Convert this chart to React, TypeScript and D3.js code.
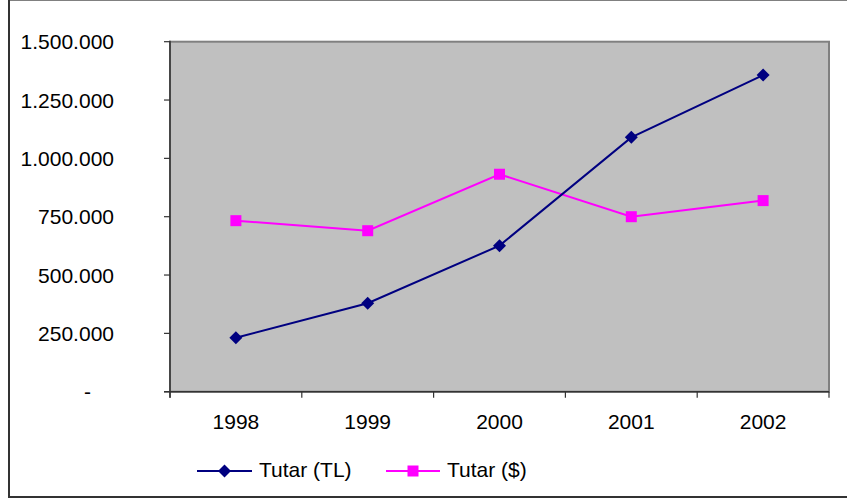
import React from "react";
import * as d3 from "d3";

const years = ["1998", "1999", "2000", "2001", "2002"];
const tutarTL = [231000, 379000, 626000, 1090000, 1357000];
const tutarUSD = [733000, 690000, 932000, 750000, 819000];
const yTicks = [0, 250000, 500000, 750000, 1000000, 1250000, 1500000];
const seriesNames = ["Tutar (TL)", "Tutar ($)"];

const W = 847;
const H = 500;
const plot = { left: 170, right: 829, top: 41.7, bottom: 391.7 };
const FONT = "'Liberation Sans', Arial, sans-serif";

const fmt = (v: number) =>
  v === 0 ? "-" : d3.format(",")(v).replace(/,/g, ".");

export default function App() {
  const x = d3.scaleBand<string>().domain(years).range([plot.left, plot.right]).padding(0);
  const y = d3.scaleLinear().domain([0, 1500000]).range([plot.bottom, plot.top]);
  const cx = (d: string) => (x(d) as number) + x.bandwidth() / 2;

  const line = d3
    .line<number>()
    .x((_, i) => cx(years[i]))
    .y((v) => y(v));

  const navy = "#000080";
  const magenta = "#FF00FF";

  const diamond = (px: number, py: number, r = 6.5) =>
    `M${px},${py - r}L${px + r},${py}L${px},${py + r}L${px - r},${py}Z`;

  const xTickPositions = [...years.map((d) => x(d) as number), plot.right];

  return (
    <svg
      width={W}
      height={H}
      style={{ position: "absolute", left: 0, top: 0, display: "block" }}
      fontFamily={FONT}
    >
      <rect x={0} y={0} width={W} height={H} fill="#ffffff" />
      {/* outer border */}
      <line x1={8} y1={0.5} x2={W} y2={0.5} stroke="#808080" strokeWidth={1} />
      <line x1={9} y1={0} x2={9} y2={498} stroke="#333333" strokeWidth={2} />
      <line x1={8} y1={497} x2={W} y2={497} stroke="#333333" strokeWidth={2} />

      {/* plot area */}
      <rect
        x={plot.left}
        y={plot.top}
        width={plot.right - plot.left}
        height={plot.bottom - plot.top}
        fill="#C0C0C0"
        stroke="#808080"
        strokeWidth={2}
      />

      {/* y axis */}
      <line x1={plot.left} y1={plot.top - 1} x2={plot.left} y2={plot.bottom + 6} stroke="#333" strokeWidth={1.5} />
      {yTicks.map((t) => (
        <g key={t}>
          <line x1={plot.left - 6} x2={plot.left} y1={y(t)} y2={y(t)} stroke="#333" strokeWidth={1.2} />
          <text
            x={t === 0 ? 91 : 114}
            y={y(t) + 7.5}
            textAnchor="end"
            fontSize={21}
            fill="#000"
          >
            {fmt(t)}
          </text>
        </g>
      ))}

      {/* x axis */}
      <line x1={plot.left - 6} y1={plot.bottom} x2={plot.right} y2={plot.bottom} stroke="#333" strokeWidth={1.5} />
      {xTickPositions.map((p, i) => (
        <line key={i} x1={p} x2={p} y1={plot.bottom} y2={plot.bottom + 6} stroke="#333" strokeWidth={1.2} />
      ))}
      {years.map((d) => (
        <text key={d} x={cx(d)} y={429} textAnchor="middle" fontSize={21} fill="#000">
          {d}
        </text>
      ))}

      {/* series */}
      <path d={line(tutarUSD) || ""} fill="none" stroke={magenta} strokeWidth={2} />
      {tutarUSD.map((v, i) => (
        <rect key={i} x={cx(years[i]) - 5.5} y={y(v) - 5.5} width={11} height={11} fill={magenta} />
      ))}
      <path d={line(tutarTL) || ""} fill="none" stroke={navy} strokeWidth={2} />
      {tutarTL.map((v, i) => (
        <path key={i} d={diamond(cx(years[i]), y(v))} fill={navy} />
      ))}

      {/* legend */}
      <g>
        <line x1={197} x2={252} y1={471} y2={471} stroke={navy} strokeWidth={2} />
        <path d={diamond(224.5, 471)} fill={navy} />
        <text x={259} y={477} fontSize={21} fill="#000">
          {seriesNames[0]}
        </text>
        <line x1={386} x2={440} y1={471} y2={471} stroke={magenta} strokeWidth={2} />
        <rect x={407.5} y={465.5} width={11} height={11} fill={magenta} />
        <text x={447} y={477} fontSize={21} fill="#000">
          {seriesNames[1]}
        </text>
      </g>
    </svg>
  );
}
